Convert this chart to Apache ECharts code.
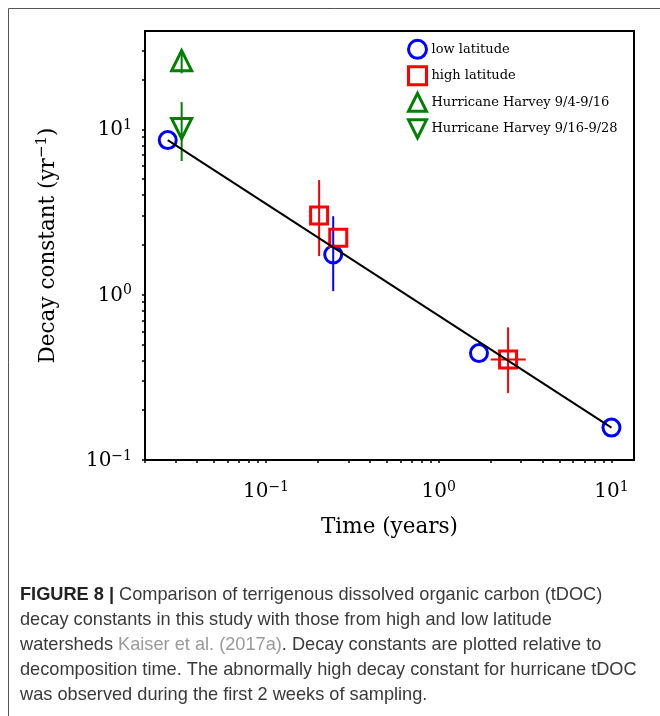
<!DOCTYPE html>
<html><head><meta charset="utf-8">
<script src="https://cdn.jsdelivr.net/npm/echarts@6/dist/echarts.min.js"></script>
<style>html,body{margin:0;padding:0;background:#fff}#c{width:660px;height:716px}</style>
</head><body><div id="c"></div>
<script>
// ---- data ----
const lowLatTime = [0.027, 0.245, 1.71, 10];
const lowLatK = [8.6, 1.75, 0.443, 0.157];
const lowLatKErrLow = [null, 1.05, null, null];
const lowLatKErrHigh = [null, 2.98, null, null];

const highLatTime = [0.203, 0.262, 2.52];
const highLatK = [3.01, 2.21, 0.405];
const highLatKErrLow = [1.71, null, 0.254];
const highLatKErrHigh = [4.93, null, 0.634];
const highLatTimeErrLow = [null, null, 2.0];
const highLatTimeErrHigh = [null, null, 3.19];

const harvey1Time = [0.0325];
const harvey1K = [26];
const harvey1KErrLow = [21.8];
const harvey1KErrHigh = [29.7];

const harvey2Time = [0.0325];
const harvey2K = [10.1];
const harvey2KErrLow = [6.43];
const harvey2KErrHigh = [14.6];

const fitTime = [0.027, 10];
const fitK = [8.6, 0.157];

const seriesNames = ['low latitude', 'high latitude', 'Hurricane Harvey 9/4-9/16', 'Hurricane Harvey 9/16-9/28'];

const xTickValues = [0.1, 1, 10];
const xMinorTickValues = [0.02, 0.03, 0.04, 0.05, 0.06, 0.07, 0.08, 0.09,
  0.2, 0.3, 0.4, 0.5, 0.6, 0.7, 0.8, 0.9, 2, 3, 4, 5, 6, 7, 8, 9];
const yTickValues = [0.1, 1, 10];
const yMinorTickValues = [0.2, 0.3, 0.4, 0.5, 0.6, 0.7, 0.8, 0.9,
  2, 3, 4, 5, 6, 7, 8, 9, 20, 30];

const xRange = [0.01994, 13.5];
const yRange = [0.1, 39.3];

// ---- helpers ----
const SERIF = 'DejaVu Serif';
const supRich = {
  b: { fontFamily: SERIF, fontSize: 20, color: '#000', lineHeight: 22, verticalAlign: 'bottom' },
  s: { fontFamily: SERIF, fontSize: 14, color: '#000', lineHeight: 14, verticalAlign: 'top' }
};
function powLabel(v) {
  const e = Math.round(Math.log10(v));
  return '{b|10}{s|' + (e < 0 ? '\u2212' + (-e) : e) + '}';
}
function pairs(xs, ys) { return xs.map((x, i) => [x, ys[i]]); }

function vErr(xs, lo, hi, color) {
  const data = [];
  xs.forEach((x, i) => { if (lo[i] != null) data.push([x, lo[i], hi[i]]); });
  return {
    type: 'custom', silent: true, data: data, z: 2,
    encode: { x: 0, y: [1, 2] },
    renderItem: function (params, api) {
      const a = api.coord([api.value(0), api.value(1)]);
      const b = api.coord([api.value(0), api.value(2)]);
      return { type: 'line', shape: { x1: a[0], y1: a[1], x2: b[0], y2: b[1] },
        style: { stroke: color, lineWidth: 2 } };
    }
  };
}
function hErr(ys, lo, hi, color) {
  const data = [];
  ys.forEach((y, i) => { if (lo[i] != null) data.push([y, lo[i], hi[i]]); });
  return {
    type: 'custom', silent: true, data: data, z: 2,
    encode: { x: [1, 2], y: 0 },
    renderItem: function (params, api) {
      const a = api.coord([api.value(1), api.value(0)]);
      const b = api.coord([api.value(2), api.value(0)]);
      return { type: 'line', shape: { x1: a[0], y1: a[1], x2: b[0], y2: b[1] },
        style: { stroke: color, lineWidth: 2 } };
    }
  };
}
function markerSeries(name, xs, ys, symbol, size, color, rotate) {
  return {
    type: 'scatter', name: name, data: pairs(xs, ys), symbol: symbol, symbolSize: size,
    symbolRotate: rotate || 0, z: 3,
    itemStyle: { color: 'rgba(0,0,0,0)', borderColor: color, borderWidth: 3, opacity: 1 },
    emphasis: { disabled: true }
  };
}

const BLUE = '#0000ff', RED = '#ff0000', GREEN = '#008000';
const DOWN_TRI = 'path://M0,0 L2,0 L1,2 Z';

const chart = echarts.init(document.getElementById('c'), null, { renderer: 'canvas' });
chart.setOption({
  animation: false,
  backgroundColor: '#fff',
  grid: { left: 145, top: 31, width: 489, height: 429, show: true,
    borderColor: '#000', borderWidth: 2, backgroundColor: 'transparent', outerBoundsMode: 'none' },
  legend: {
    data: [
      { name: seriesNames[0], icon: 'circle' },
      { name: seriesNames[1], icon: 'rect' },
      { name: seriesNames[2], icon: 'triangle' },
      { name: seriesNames[3], icon: DOWN_TRI }
    ],
    orient: 'vertical', left: 407, top: 38.8, padding: 0,
    itemWidth: 18, itemHeight: 18, itemGap: 5.5, selectedMode: false,
    symbolRotate: 0,
    itemStyle: { borderWidth: 3, opacity: 1 },
    textStyle: { fontFamily: SERIF, fontSize: 13, color: '#000' }
  },
  xAxis: {
    type: 'log', logBase: 10, min: xRange[0], max: xRange[1],
    axisLine: { show: true, lineStyle: { color: '#000', width: 2 } },
    axisTick: { show: true, length: 3, lineStyle: { color: '#000', width: 1.5 },
      customValues: xTickValues.concat(xMinorTickValues) },
    axisLabel: { customValues: xTickValues, formatter: powLabel, rich: supRich, margin: 20 },
    splitLine: { show: false }, minorTick: { show: false },
    name: 'Time (years)', nameLocation: 'middle', nameGap: 56, nameMoveOverlap: false,
    nameTextStyle: { fontFamily: SERIF, fontSize: 21.5, color: '#000' }
  },
  yAxis: {
    type: 'log', logBase: 10, min: yRange[0], max: yRange[1],
    axisLine: { show: true, lineStyle: { color: '#000', width: 2 } },
    axisTick: { show: true, length: 3, lineStyle: { color: '#000', width: 1.5 },
      customValues: yTickValues.concat(yMinorTickValues) },
    axisLabel: { customValues: yTickValues, formatter: powLabel, rich: supRich, margin: 13 },
    splitLine: { show: false }, minorTick: { show: false },
    name: '{a|Decay constant (yr}{s|\u22121}{a|)}', nameLocation: 'middle', nameGap: 86,
    nameMoveOverlap: false,
    nameTextStyle: { rich: {
      a: { fontFamily: SERIF, fontSize: 21.5, color: '#000', lineHeight: 24, verticalAlign: 'bottom' },
      s: { fontFamily: SERIF, fontSize: 15, color: '#000', lineHeight: 15, verticalAlign: 'top' }
    } }
  },
  graphic: [
    { type: 'rect', silent: true, shape: { x: 8.5, y: 8.5, width: 700, height: 800 },
      style: { fill: 'none', stroke: '#555', lineWidth: 1 } },
    { type: 'text', silent: true, x: 20, y: 582,
      style: {
        text: '{b|FIGURE 8 |} Comparison of terrigenous dissolved organic carbon (tDOC)\n' +
          'decay constants in this study with those from high and low latitude\n' +
          'watersheds {l|Kaiser et al. (2017a)}. Decay constants are plotted relative to\n' +
          'decomposition time. The abnormally high decay constant for hurricane tDOC\n' +
          'was observed during the first 2 weeks of sampling.',
        fontFamily: 'Liberation Sans', fontSize: 18.2, fill: '#3a3a3a', lineHeight: 25,
        rich: {
          b: { fontFamily: 'Liberation Sans', fontSize: 18.2, fontWeight: 'bold', fill: '#222', lineHeight: 25 },
          l: { fontFamily: 'Liberation Sans', fontSize: 18.2, fill: '#9a9a9a', lineHeight: 25 }
        }
      } }
  ],
  series: [
    vErr(lowLatTime, lowLatKErrLow, lowLatKErrHigh, BLUE),
    vErr(highLatTime, highLatKErrLow, highLatKErrHigh, RED),
    hErr(highLatK, highLatTimeErrLow, highLatTimeErrHigh, RED),
    vErr(harvey1Time, harvey1KErrLow, harvey1KErrHigh, GREEN),
    vErr(harvey2Time, harvey2KErrLow, harvey2KErrHigh, GREEN),
    markerSeries(seriesNames[0], lowLatTime, lowLatK, 'circle', 17, BLUE),
    markerSeries(seriesNames[1], highLatTime, highLatK, 'rect', 17, RED),
    markerSeries(seriesNames[2], harvey1Time, harvey1K, 'triangle', 20, GREEN),
    markerSeries(seriesNames[3], harvey2Time, harvey2K, 'triangle', 20, GREEN, 180),
    { type: 'line', name: 'fit', data: pairs(fitTime, fitK), symbol: 'none', z: 4,
      lineStyle: { color: '#000', width: 2 }, emphasis: { disabled: true } }
  ]
});
</script></body></html>
